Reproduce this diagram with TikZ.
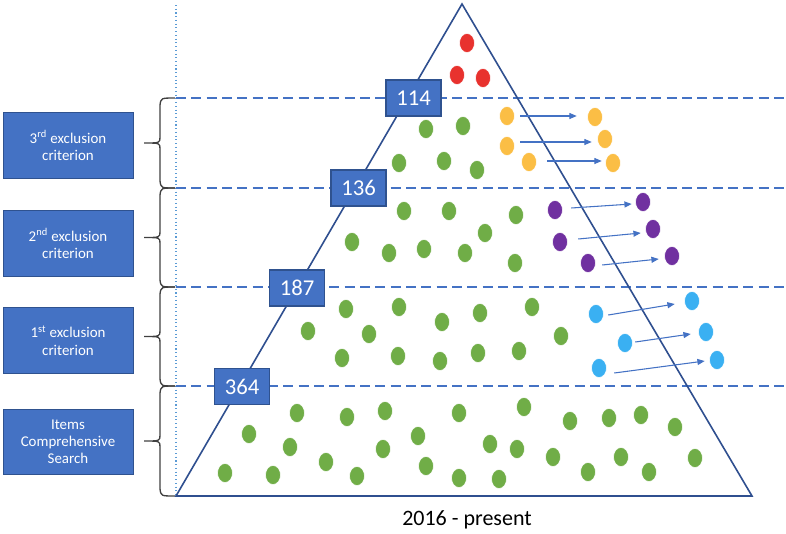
\documentclass[tikz,border=0pt]{standalone}
\usepackage{fontspec}
\setmainfont{Carlito}
\usetikzlibrary{shapes.geometric,arrows.meta}
\definecolor{boxblue}{HTML}{4472C4}
\definecolor{boxedge}{HTML}{2F528F}
\definecolor{tri}{HTML}{2F4F8F}
\definecolor{dgreen}{HTML}{70AD47}
\definecolor{dred}{HTML}{E8322E}
\definecolor{dyellow}{HTML}{FBBE45}
\definecolor{dpurple}{HTML}{7030A0}
\definecolor{dblue}{HTML}{3AB0F2}
\definecolor{dotline}{HTML}{5B9BD5}
\definecolor{bracec}{HTML}{404040}
\tikzset{
  dotbase/.style={ellipse, minimum width=11.25pt, minimum height=14.25pt, inner sep=0pt, draw=white, line width=0.4pt},
  gdot/.style={dotbase, fill=dgreen},
  rdot/.style={dotbase, fill=dred},
  ydot/.style={dotbase, fill=dyellow},
  pdot/.style={dotbase, fill=dpurple},
  bdot/.style={dotbase, fill=dblue},
  numbox/.style={draw=boxedge, fill=boxblue, line width=0.8pt, minimum width=41.25pt, minimum height=27pt, inner sep=0pt, text=white, font=\fontsize{17}{18}\selectfont},
  critbox/.style={draw=boxedge, fill=boxblue, line width=0.6pt, minimum width=97.5pt, minimum height=49pt, inner sep=0pt, text=white, align=center, font=\fontsize{11.2}{12.9}\selectfont},
  level/.style={boxblue, dashed, dash pattern=on 7.5pt off 4pt, line width=1.5pt},
  arr/.style={boxblue, line width=0.8pt, -{Triangle[length=5.5pt,width=4.5pt]}},
  bracepath/.style={bracec, line width=1pt}
}
\newcommand{\mybrace}[2]{%
  \pgfmathsetmacro{\mid}{(#1+#2)/2}%
  \draw[bracepath] (175,#1) .. controls (161,#1) .. (160,#1+7) -- (160,\mid-6) .. controls (160,\mid) .. (144,\mid) .. controls (160,\mid) .. (160,\mid+6) -- (160,#2-7) .. controls (161,#2) .. (175,#2);%
}
\begin{document}
\begin{tikzpicture}[x=0.75pt,y=-0.75pt]
\useasboundingbox (0,0) rectangle (786,533);
% dotted vertical line
\coordinate (vtop) at (176,5);
\coordinate (vbot) at (176,496);
\draw[dotline, dotted, line width=0.8pt] (vtop) -- (vbot);
% braces
\mybrace{98}{188}
\mybrace{188}{287}
\mybrace{287}{386}
\mybrace{386}{496}
% level lines
\foreach \yy/\nm in {98/l1,188/l2,287/l3,386/l4}{
  \coordinate (\nm a) at (176,\yy);
  \coordinate (\nm b) at (786,\yy);
  \draw[level] (\nm a) -- (\nm b);
}
% triangle
\coordinate (apex) at (462,4);
\coordinate (bl) at (176,496);
\coordinate (br) at (752,496);
\draw[tri, line width=1.2pt, line join=miter] (apex) -- (bl) -- (br) -- cycle;
% number boxes
\node[numbox] (n114) at (413.5,98) {114};
\node[numbox] (n136) at (358.5,188) {136};
\node[numbox] (n187) at (297,288) {187};
\node[numbox] (n364) at (242,386.5) {364};
% criterion boxes
\node[critbox] (c3) at (68,145.5) {3\textsuperscript{rd} exclusion\\criterion};
\node[critbox] (c2) at (68,243.5) {2\textsuperscript{nd} exclusion\\criterion};
\node[critbox] (c1) at (68,340.5) {1\textsuperscript{st} exclusion\\criterion};
\node[critbox] (c0) at (68,442) {Items\\Comprehensive\\Search};
% bottom label
\node[font=\fontsize{16.5}{20}\selectfont, text=black] (lbl) at (467,520) {2016 - present};
% red dots
\node[rdot] (r1) at (467,43) {};
\node[rdot] (r2) at (457,75) {};
\node[rdot] (r3) at (483,78) {};
% yellow dots
\node[ydot] (yl1) at (507,116) {};
\node[ydot] (yl2) at (507,146) {};
\node[ydot] (yl3) at (529,162) {};
\node[ydot] (yr1) at (595,117) {};
\node[ydot] (yr2) at (605,139) {};
\node[ydot] (yr3) at (613,163) {};
% purple dots
\node[pdot] (pl1) at (555,210) {};
\node[pdot] (pl2) at (560,242) {};
\node[pdot] (pl3) at (588,263) {};
\node[pdot] (pr1) at (643,202) {};
\node[pdot] (pr2) at (653,229) {};
\node[pdot] (pr3) at (672,256) {};
% blue dots
\node[bdot] (bl1) at (596,314) {};
\node[bdot] (bl2) at (625,343) {};
\node[bdot] (bl3) at (599,368) {};
\node[bdot] (br1) at (692,301) {};
\node[bdot] (br2) at (706,332) {};
\node[bdot] (br3) at (717,360) {};
% green dots
\foreach \x/\y [count=\i] in {426/129,463/126,399/163,444/161,477/170,
  404/211,449/211,516/215,485/233,352/242,389/253,424/249,465/253,515/263,
  346/309,399/307,442/322,480/313,532/307,308/331,369/334,561/336,342/358,398/356,440/361,478/353,519/351,
  297/413,347/417,385/411,459/413,524/407,570/421,609/418,641/415,675/427,
  249/434,290/447,418/436,383/449,490/444,517/449,553/457,621/457,695/458,
  225/473,273/475,326/462,357/476,426/466,459/478,499/479,588/472,649/472}{
  \node[gdot] (g\i) at (\x,\y) {};
}
% arrows
\draw[arr] ([shift={(5.5,0)}]yl1.east) -- ([shift={(-10.5,-1)}]yr1.west);
\draw[arr] ([shift={(5.5,-4)}]yl2.east) -- ([shift={(-5.5,3)}]yr2.west);
\draw[arr] ([shift={(10.5,-1)}]yl3.east) -- ([shift={(-3.5,-2)}]yr3.west);
\draw[arr] ([shift={(8.5,-2)}]pl1.east) -- ([shift={(-3.5,2)}]pr1.west);
\draw[arr] ([shift={(10.5,-3)}]pl2.east) -- ([shift={(-4.5,4)}]pr2.west);
\draw[arr] ([shift={(6.5,2)}]pl3.east) -- ([shift={(-5.5,3)}]pr3.west);
\draw[arr] ([shift={(4.5,1)}]bl1.east) -- ([shift={(-9.5,3)}]br1.west);
\draw[arr] ([shift={(2.5,-1)}]bl2.east) -- ([shift={(-7.5,2)}]br2.west);
\draw[arr] ([shift={(7.5,5)}]bl3.east) -- ([shift={(-4.5,1)}]br3.west);
\end{tikzpicture}
\end{document}
